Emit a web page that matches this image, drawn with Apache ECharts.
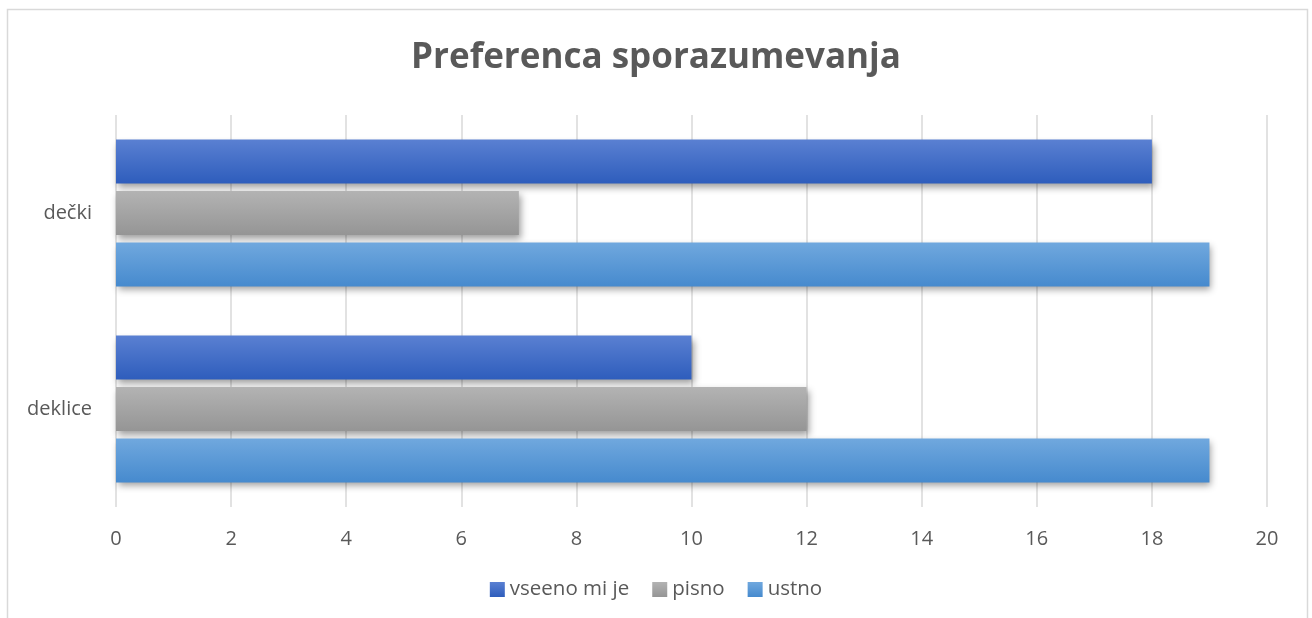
<!DOCTYPE html>
<html>
<head>
    <meta charset="utf-8">
    <title>Preferenca sporazumevanja</title>
    <script src="https://cdn.jsdelivr.net/npm/echarts@6/dist/echarts.min.js"></script>
    <style type="text/css">
        html, body {
            margin: 0;
            padding: 0;
            background: #fff;
        }
        #chart {
            width: 1312px;
            height: 618px;
        }
    </style>
</head>
<body>
<div id="chart"></div>
<script>
    // podatki
    var categories = ['deklice', 'dečki'];
    var seriesNames = ['vseeno mi je', 'pisno', 'ustno'];
    var vseeno = [10, 18];
    var pisno = [12, 7];
    var ustno = [19, 19];

    var chart = echarts.init(document.getElementById('chart'));

    function grad(top, bottom) {
        return new echarts.graphic.LinearGradient(0, 0, 0, 1, [
            {offset: 0, color: top},
            {offset: 1, color: bottom}
        ]);
    }

    var barStyle = function (top, bottom) {
        return {
            color: grad(top, bottom),
            shadowColor: 'rgba(0,0,0,0.38)',
            shadowBlur: 7,
            shadowOffsetX: 2,
            shadowOffsetY: 4
        };
    };

    var option = {
        animation: false,
        textStyle: {fontFamily: 'Open Sans'},
        graphic: [{
            type: 'rect',
            shape: {x: 7.5, y: 9.5, width: 1300, height: 640},
            style: {fill: 'none', stroke: '#d9d9d9', lineWidth: 1.5},
            silent: true
        }],
        title: {
            text: 'Preferenca sporazumevanja',
            left: 'center',
            top: 36,
            textStyle: {
                fontFamily: 'Open Sans',
                fontSize: 35,
                fontWeight: 'bold',
                color: '#595959'
            }
        },
        legend: {
            data: seriesNames,
            icon: 'rect',
            bottom: 13,
            left: 'center',
            itemWidth: 15,
            itemHeight: 15,
            itemGap: 23,
            textStyle: {fontSize: 20.5, color: '#595959'}
        },
        grid: {
            left: 116,
            right: 45,
            top: 115,
            bottom: 111,
            containLabel: false
        },
        xAxis: {
            type: 'value',
            min: 0,
            max: 20,
            interval: 2,
            axisLine: {show: false},
            axisTick: {show: false},
            axisLabel: {fontSize: 20, color: '#595959', margin: 22},
            splitLine: {lineStyle: {color: '#d9d9d9', width: 1.5}}
        },
        yAxis: {
            type: 'category',
            data: categories,
            axisLine: {show: false},
            axisTick: {show: false},
            axisLabel: {fontSize: 20, color: '#595959', margin: 24}
        },
        series: [
            {
                name: seriesNames[0],
                type: 'bar',
                data: vseeno,
                barWidth: 44,
                barGap: '17%',
                itemStyle: barStyle('#5a80d2', '#2e5dbc')
            },
            {
                name: seriesNames[1],
                type: 'bar',
                data: pisno,
                barWidth: 44,
                barGap: '17%',
                itemStyle: barStyle('#b3b3b3', '#959595')
            },
            {
                name: seriesNames[2],
                type: 'bar',
                data: ustno,
                barWidth: 44,
                barGap: '17%',
                itemStyle: barStyle('#70a8de', '#468ace')
            }
        ]
    };
    chart.setOption(option);
</script>
</body>
</html>
